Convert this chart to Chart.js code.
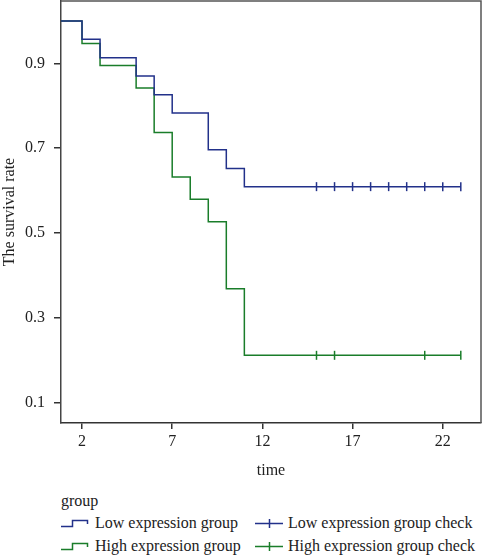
<!DOCTYPE html>
<html>
<head>
<meta charset="utf-8">
<script src="https://cdn.jsdelivr.net/npm/chart.js@4.4.1/dist/chart.umd.min.js"></script>
<style>
  body { margin: 0; background: #fff; }
  #wrap { position: relative; width: 482px; height: 555px; font-family: "Liberation Serif", "Times New Roman", serif; color: #222; }
  #legend { position: absolute; left: 0; top: 480px; width: 482px; height: 75px; font-size: 16px; }
  .lg { position: absolute; line-height: 18px; white-space: nowrap; }
  .lg svg { position: absolute; top: 4px; }
</style>
</head>
<body>
<div id="wrap">
  <canvas id="kmChart" width="482" height="480"></canvas>
  <div id="legend">
    <div class="lg" style="left:61px; top:12px;">group</div>
    <div class="lg" style="left:61px; top:34px;"><svg width="30" height="10"><path d="M0 8.5 H11.5 V2.5 H26.5 V6" fill="none" stroke="#22318a" stroke-width="1.5"/></svg><span style="margin-left:34px">Low expression group</span></div>
    <div class="lg" style="left:255px; top:34px;"><svg width="30" height="10"><path d="M0 5.5 H28 M14.5 1 V10" fill="none" stroke="#22318a" stroke-width="1.5"/></svg><span style="margin-left:33px">Low expression group check</span></div>
    <div class="lg" style="left:61px; top:57px;"><svg width="30" height="10"><path d="M0 8.5 H11.5 V2.5 H26.5 V6" fill="none" stroke="#1a7d2a" stroke-width="1.5"/></svg><span style="margin-left:34px">High expression group</span></div>
    <div class="lg" style="left:255px; top:57px;"><svg width="30" height="10"><path d="M0 5.5 H28 M14.5 1 V10" fill="none" stroke="#1a7d2a" stroke-width="1.5"/></svg><span style="margin-left:33px">High expression group check</span></div>
  </div>
</div>
<script>
  // Kaplan-Meier curves: time of each step and survival after it
  const lowTimes = [0, 2, 3, 5, 6, 7, 9, 10, 11, 23];
  const lowSurv = [1.0, 0.957, 0.913, 0.870, 0.826, 0.783, 0.696, 0.652, 0.609, 0.609];
  const highTimes = [0, 2, 3, 5, 6, 7, 8, 9, 10, 11, 23];
  const highSurv = [1.0, 0.947, 0.895, 0.842, 0.737, 0.632, 0.579, 0.526, 0.368, 0.211, 0.211];

  // censored observations
  const lowCensorTimes = [15, 16, 17, 18, 19, 20, 21, 22, 23];
  const lowCensorSurv = [0.609, 0.609, 0.609, 0.609, 0.609, 0.609, 0.609, 0.609, 0.609];
  const highCensorTimes = [15, 16, 21, 23];
  const highCensorSurv = [0.211, 0.211, 0.211, 0.211];

  const xTicks = [2, 7, 12, 17, 22];
  const yTicks = [0.1, 0.3, 0.5, 0.7, 0.9];

  const BLUE = "#22318a";
  const GREEN = "#1a7d2a";
  const AXIS = "#333";
  const FONT = { family: "'Liberation Serif', 'Times New Roman', serif", size: 16 };

  function toPoints(xs, ys) {
    return xs.map(function (x, i) { return { x: x, y: ys[i] }; });
  }

  // top and right border of the plot box
  const frame = {
    id: "frame",
    afterDraw: function (chart) {
      const a = chart.chartArea;
      const ctx = chart.ctx;
      ctx.save();
      ctx.strokeStyle = "#555";
      ctx.lineWidth = 1.5;
      ctx.beginPath();
      ctx.moveTo(a.left, a.top);
      ctx.lineTo(a.right, a.top);
      ctx.lineTo(a.right, a.bottom);
      ctx.stroke();
      ctx.restore();
    }
  };

  new Chart(document.getElementById("kmChart"), {
    type: "scatter",
    data: {
      datasets: [
        {
          label: "Low expression group",
          data: toPoints(lowTimes, lowSurv),
          showLine: true,
          stepped: "before",
          borderColor: BLUE,
          borderWidth: 1.5,
          pointRadius: 0
        },
        {
          label: "High expression group",
          data: toPoints(highTimes, highSurv),
          showLine: true,
          stepped: "before",
          borderColor: GREEN,
          borderWidth: 1.5,
          pointRadius: 0
        },
        {
          label: "Low expression group check",
          data: toPoints(lowCensorTimes, lowCensorSurv),
          showLine: false,
          pointStyle: "line",
          rotation: 90,
          pointRadius: 4.5,
          borderColor: BLUE,
          borderWidth: 1.5
        },
        {
          label: "High expression group check",
          data: toPoints(highCensorTimes, highCensorSurv),
          showLine: false,
          pointStyle: "line",
          rotation: 90,
          pointRadius: 4.5,
          borderColor: GREEN,
          borderWidth: 1.5
        }
      ]
    },
    options: {
      responsive: false,
      animation: false,
      layout: { autoPadding: false, padding: { top: 1, right: 1, left: 0, bottom: 0 } },
      plugins: {
        legend: { display: false },
        tooltip: { enabled: false }
      },
      scales: {
        x: {
          type: "linear",
          min: 0.835,
          max: 24.12,
          afterBuildTicks: function (scale) {
            scale.ticks = xTicks.map(function (v) { return { value: v }; });
          },
          afterFit: function (scale) {
            scale.height = 57;
            scale.paddingLeft = 0;
            scale.paddingRight = 0;
          },
          grid: { drawOnChartArea: false, drawTicks: true, tickLength: 6, color: AXIS, lineWidth: 1.5 },
          border: { color: AXIS, width: 1.5 },
          ticks: { font: FONT, color: "#222", padding: 3, maxRotation: 0 },
          title: { display: true, text: "time", font: FONT, color: "#222", padding: { top: 2, bottom: 0 } }
        },
        y: {
          min: 0.0513,
          max: 1.047,
          afterBuildTicks: function (scale) {
            scale.ticks = yTicks.map(function (v) { return { value: v }; });
          },
          afterFit: function (scale) {
            scale.width = 61;
            scale.paddingTop = 0;
            scale.paddingBottom = 0;
          },
          grid: { drawOnChartArea: false, drawTicks: true, tickLength: 7, color: AXIS, lineWidth: 1.5 },
          border: { color: "#444", width: 1.5 },
          ticks: {
            font: FONT,
            color: "#222",
            padding: 9,
            callback: function (v) { return Number(v).toFixed(1); }
          },
          title: { display: true, text: "The survival rate", font: FONT, color: "#222", padding: { top: 0, bottom: 0 } }
        }
      }
    },
    plugins: [frame]
  });
</script>
</body>
</html>
